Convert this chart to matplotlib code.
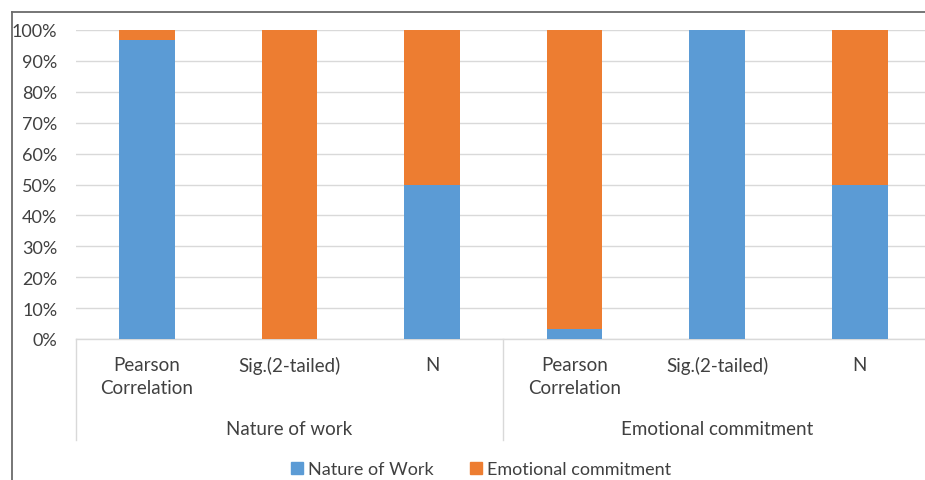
import matplotlib
matplotlib.use("Agg")
import matplotlib.pyplot as plt
from matplotlib.lines import Line2D
from matplotlib.patches import Patch
from matplotlib.ticker import PercentFormatter, MultipleLocator

plt.rcParams['font.family'] = ['Lato', 'DejaVu Sans']

categories = ["Pearson\nCorrelation", "Sig.(2-tailed)", "N",
              "Pearson\nCorrelation", "Sig.(2-tailed)", "N"]
groups = ["Nature of work", "Emotional commitment"]
series_names = ["Nature of Work", "Emotional commitment"]
nature_of_work = [96.7, 0, 50, 3.3, 100, 50]
emotional_commitment = [3.3, 100, 50, 96.7, 0, 50]

blue = "#5B9BD5"
orange = "#ED7D31"
grid_c = "#D9D9D9"
text_c = "#404040"

W, H = 925, 481
fig = plt.figure(figsize=(W / 100, H / 100), dpi=100)
left_px, right_px, top_px, bot_px = 75.5, 931, 31, 340
ax = fig.add_axes([left_px / W, 1 - bot_px / H, (right_px - left_px) / W, (bot_px - top_px) / H])

x = list(range(len(categories)))
bw = 0.39
ax.bar(x, nature_of_work, width=bw, color=blue, zorder=3, label=series_names[0])
ax.bar(x, emotional_commitment, width=bw, bottom=nature_of_work, color=orange, zorder=3,
       label=series_names[1])

ax.set_xlim(-0.5, len(categories) - 0.5)
ax.set_ylim(0, 100)
ax.yaxis.set_major_locator(MultipleLocator(10))
ax.yaxis.set_major_formatter(PercentFormatter(decimals=0))
ax.grid(axis='y', color=grid_c, lw=1, zorder=0)
for s in ['top', 'right', 'left']:
    ax.spines[s].set_visible(False)
ax.spines['bottom'].set_color(grid_c)
ax.spines['bottom'].set_linewidth(1)
ax.tick_params(axis='y', length=0, labelsize=13, labelcolor=text_c, pad=13)
ax.tick_params(axis='x', length=0, labelbottom=False)

fs = 13.5
ph = bot_px - top_px
for xi, lab in zip(x, categories):
    ax.text(xi, -(357 - bot_px) / ph * 100, lab, ha='center', va='top', fontsize=fs,
            color=text_c, linespacing=1.45, clip_on=False)
for gi, g in enumerate(groups):
    ax.text(gi * 3 + 1, -(430 - bot_px) / ph * 100, g, ha='center', va='center',
            fontsize=fs, color=text_c, clip_on=False)
for sx in [-0.5, 2.5, 5.5]:
    ax.plot([sx, sx], [0, -(441 - bot_px) / ph * 100], color=grid_c, lw=1, clip_on=False)

handles = [Patch(color=blue, label=series_names[0]), Patch(color=orange, label=series_names[1])]
fig.legend(handles=handles, loc='center', bbox_to_anchor=(481 / W, 1 - 470 / H), ncol=2,
           frameon=False, fontsize=13.0, handlelength=0.65, handleheight=0.65,
           handletextpad=0.3, columnspacing=2.0, labelcolor=text_c)

fig.add_artist(Line2D([12 / W, 12 / W], [1 - 13 / H, 0], transform=fig.transFigure,
                      color="#6b6b6b", lw=1.3))
fig.add_artist(Line2D([12 / W, 1], [1 - 13 / H, 1 - 13 / H], transform=fig.transFigure,
                      color="#6b6b6b", lw=1.3))

fig.savefig("out.png", dpi=100, facecolor="white")
